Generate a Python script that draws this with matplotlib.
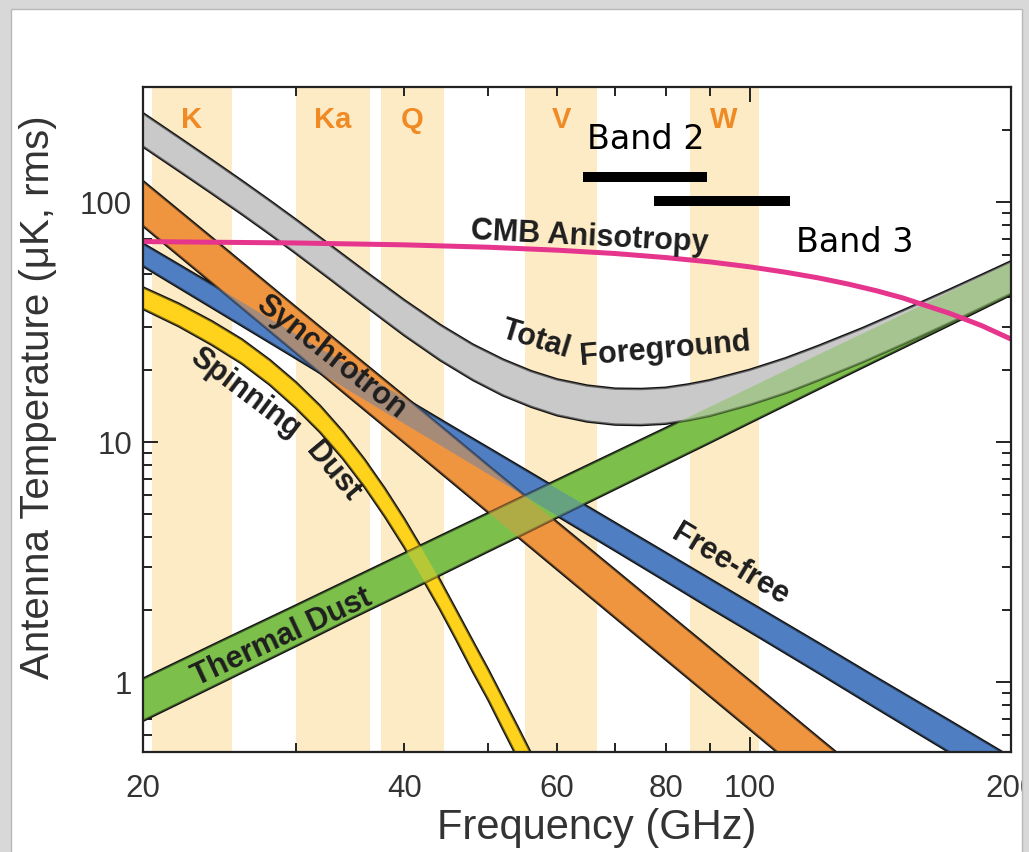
import matplotlib
matplotlib.use("Agg")
import matplotlib.pyplot as plt
from matplotlib.patches import Rectangle
from matplotlib.ticker import FixedLocator, FixedFormatter, LogLocator, NullFormatter

# ---------------------------------------------------------------- data
# power-law components (GHz, antenna temperature in uK rms)
freq = [20, 25, 30, 35, 40, 45, 50, 55, 60, 70, 80, 90, 100, 120, 140, 170, 200]
sync_hi = [122, 62.8, 36.4, 23.0, 15.5, 10.9, 7.95, 5.99, 4.62, 2.92, 1.96, 1.38, 1.01, 0.585, 0.37, 0.207, 0.128]
sync_lo = [79.4, 40.7, 23.5, 14.8, 9.93, 6.97, 5.08, 3.82, 2.94, 1.85, 1.24, 0.871, 0.635, 0.367, 0.231, 0.129, 0.079]
ff_hi = [67, 41.6, 28.1, 20.2, 15.2, 11.8, 9.43, 7.69, 6.38, 4.59, 3.45, 2.68, 2.14, 1.45, 1.04, 0.688, 0.485]
ff_lo = [54, 33.2, 22.3, 15.9, 11.9, 9.22, 7.33, 5.95, 4.92, 3.52, 2.63, 2.03, 1.62, 1.09, 0.776, 0.508, 0.357]
dust_hi = [1.03, 1.52, 2.08, 2.72, 3.43, 4.21, 5.05, 5.96, 6.93, 9.05, 11.4, 14.0, 16.8, 23.1, 30.1, 42.2, 55.9]
dust_lo = [0.688, 1.02, 1.41, 1.86, 2.35, 2.90, 3.50, 4.14, 4.84, 6.36, 8.06, 9.93, 12.0, 16.6, 21.8, 30.7, 41.0]

# spinning dust
spin_freq = [20, 22, 24, 26, 28, 30, 32, 34, 36, 38, 40, 42, 44, 46, 48, 50, 52, 54, 56, 58, 60]
spin_hi = [44, 37.6, 31.8, 26.7, 21.9, 17.7, 14.1, 11.0, 8.43, 6.37, 4.77, 3.54, 2.64, 1.96,
           1.47, 1.12, 0.85, 0.652, 0.502, 0.39, 0.305]
spin_lo = [35.8, 30.3, 25.4, 21.2, 17.3, 13.85, 10.97, 8.51, 6.49, 4.88, 3.64, 2.69, 2.00, 1.48,
           1.10, 0.84, 0.633, 0.484, 0.372, 0.288, 0.224]

# total foreground
tot_freq = [20, 22, 24, 26, 28, 30, 33, 36, 40, 44, 48, 52, 56, 60, 65, 70, 75, 80, 85, 90,
            100, 110, 120, 135, 150, 170, 185, 200]
total_hi = [234, 185.3, 149.5, 122.3, 101.1, 84.3, 65.2, 51.5, 38.9, 30.7, 25.4, 22.0, 19.7, 18.2,
            17.15, 16.65, 16.6, 16.8, 17.35, 18.06, 19.95, 22.3, 25.1, 29.8, 35.2, 43.1, 49.6, 56.5]
total_lo = [169.9, 134.6, 108.6, 88.9, 73.4, 61.1, 47.1, 37.0, 27.8, 21.9, 18.1, 15.6, 14.0, 12.9,
            12.15, 11.8, 11.75, 11.9, 12.3, 12.83, 14.26, 15.97, 18.06, 21.5, 25.45, 31.3, 36.2, 41.4]

# CMB anisotropy
cmb_freq = [20, 30, 40, 50, 60, 70, 80, 90, 100, 110, 120, 130, 140, 150, 170, 185, 200]
cmb = [68.3, 67.4, 66.2, 64.7, 62.9, 60.9, 58.6, 56.2, 53.6, 50.9, 48.2, 45.4, 42.6, 39.8, 34.3, 30.5, 26.8]

# WMAP frequency bands (GHz)
band_names = ["K", "Ka", "Q", "V", "W"]
band_lo = [20.5, 30.0, 37.6, 55.1, 85.3]
band_hi = [25.3, 36.5, 44.4, 66.7, 102.4]

# receiver bands
rx_names = ["Band 2", "Band 3"]
rx_lo = [64.2, 77.5]
rx_hi = [89.4, 111.3]
rx_level = [127, 101]

# ---------------------------------------------------------------- styling
SANS = ["Liberation Sans", "DejaVu Sans"]
C_GRAY = "#c9c9c9"
C_ORANGE = "#f0953f"
C_BLUE = "#4f7fc2"
C_GREEN = "#7cc04b"
C_YELLOW = "#ffd21c"
C_CMB = "#e6358c"
C_WMAP = "#fdebc6"
C_WMAP_TXT = "#f08a24"
C_LABEL = "#1e1e1e"

W, H = 1029, 853
fig = plt.figure(figsize=(W / 100, H / 100), dpi=100, facecolor="white")

ax = fig.add_axes([143 / W, 1 - 753 / H, 868 / W, 665 / H])
ax.set_xscale("log")
ax.set_yscale("log")
ax.set_xlim(20, 200)
ax.set_ylim(0.51, 301)
ax.set_facecolor("white")

for lo, hi, name in zip(band_lo, band_hi, band_names):
    ax.axvspan(lo, hi, color=C_WMAP, lw=0, zorder=0.5)
    ax.text((lo * hi) ** 0.5, 0.952, name, transform=ax.get_xaxis_transform(),
            ha="center", va="center", fontsize=21, fontweight="bold",
            color=C_WMAP_TXT, family=SANS, zorder=1)

components = [
    (freq, ff_lo, ff_hi, C_BLUE),
    (freq, sync_lo, sync_hi, C_ORANGE),
    (spin_freq, spin_lo, spin_hi, C_YELLOW),
    (freq, dust_lo, dust_hi, C_GREEN),
    (tot_freq, total_lo, total_hi, C_GRAY),
]

z = 2
for fx, lo, hi, col in components:
    ax.fill_between(fx, lo, hi, facecolor=col, edgecolor="none", zorder=z)
    ax.plot(fx, lo, color="#111111", lw=1.8, zorder=z + 0.1, solid_joinstyle="round")
    ax.plot(fx, hi, color="#111111", lw=1.8, zorder=z + 0.1, solid_joinstyle="round")
    z += 1

# translucent second pass so overlaps show a mix of both colours
for fx, lo, hi, col in reversed(components):
    ax.fill_between(fx, lo, hi, facecolor=col, edgecolor="none", alpha=0.45, zorder=z)
    z += 0.1

ax.plot(cmb_freq, cmb, color=C_CMB, lw=3.6, zorder=20, solid_capstyle="butt")

for name, lo, hi, lev in zip(rx_names, rx_lo, rx_hi, rx_level):
    ax.plot([lo, hi], [lev, lev], color="black", lw=7.2, solid_capstyle="butt", zorder=21)

ax.text(0.579, 0.922, "Band 2", transform=ax.transAxes, ha="center", va="center",
        fontsize=24, family="DejaVu Sans", color="black", zorder=22)
ax.text(0.820, 0.768, "Band 3", transform=ax.transAxes, ha="center", va="center",
        fontsize=24, family="DejaVu Sans", color="black", zorder=22)

labels = [
    ("CMB Anisotropy", 0.515, 0.776, -3),
    ("Total", 0.452, 0.621, -17),
    ("Foreground", 0.601, 0.606, 5),
    ("Synchrotron", 0.217, 0.595, -38),
    ("Spinning", 0.1175, 0.541, -37),
    ("Dust", 0.219, 0.4226, -50),
    ("Thermal Dust", 0.160, 0.173, 25),
    ("Free-free", 0.676, 0.283, -31),
]
for txt, x, y, rot in labels:
    ax.text(x, y, txt, transform=ax.transAxes, ha="center", va="center",
            rotation=rot, rotation_mode="anchor", fontsize=22, fontweight="bold",
            color=C_LABEL, family=SANS, zorder=23)

# ---------------------------------------------------------------- axes
ax.xaxis.set_major_locator(FixedLocator([100]))
ax.xaxis.set_major_formatter(FixedFormatter(["100"]))
ax.xaxis.set_minor_locator(FixedLocator([20, 30, 40, 50, 60, 70, 80, 90, 200]))
ax.xaxis.set_minor_formatter(FixedFormatter(["20", "", "40", "", "60", "", "80", "", "200"]))
ax.yaxis.set_major_locator(FixedLocator([1, 10, 100]))
ax.yaxis.set_major_formatter(FixedFormatter(["1", "10", "100"]))
ax.yaxis.set_minor_locator(LogLocator(base=10, subs=range(2, 10)))
ax.yaxis.set_minor_formatter(NullFormatter())

ax.tick_params(which="both", direction="in", top=True, right=True, width=1.4, color="#222222")
ax.tick_params(which="major", length=11)
ax.tick_params(which="minor", length=6.5)
ax.tick_params(axis="x", which="both", pad=15, labelsize=22.5, labelcolor="#333333")
ax.tick_params(axis="y", which="both", pad=8, labelsize=22.5, labelcolor="#333333")
for lab in ax.get_xticklabels(which="both") + ax.get_yticklabels(which="both"):
    lab.set_family(SANS)

for sp in ax.spines.values():
    sp.set_linewidth(1.6)
    sp.set_color("#222222")
    sp.set_zorder(30)

fig.text(597 / W, 1 - 828 / H, "Frequency (GHz)", ha="center", va="center",
         fontsize=30, color="#333333", family=SANS)
fig.text(38 / W, 1 - 397 / H, "Antenna Temperature (\u03bcK, rms)", ha="center", va="center",
         rotation=90, fontsize=29, color="#333333", family=SANS)

# grey page frame around the white panel
for (x0, y0, x1, y1) in [(0, 0, 11, H), (1022, 0, W, H), (0, 0, W, 10)]:
    fig.patches.append(Rectangle((x0 / W, 1 - y1 / H), (x1 - x0) / W, (y1 - y0) / H,
                                 transform=fig.transFigure, facecolor="#d8d8d8",
                                 edgecolor="none", zorder=50))
fig.patches.append(Rectangle((11 / W, -0.01), (1022 - 11) / W, 1 - 10 / H + 0.01,
                             transform=fig.transFigure, facecolor="none",
                             edgecolor="#b8b8b8", lw=1.0, zorder=51))

fig.savefig("out.png", dpi=100, facecolor=fig.get_facecolor())
